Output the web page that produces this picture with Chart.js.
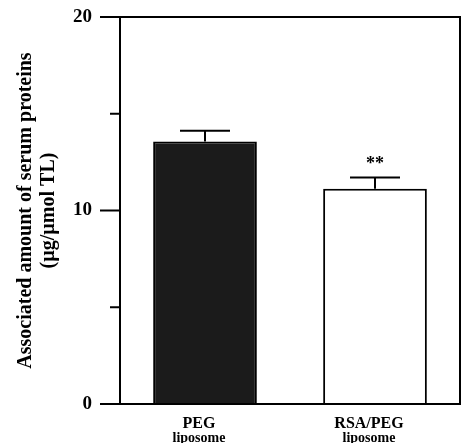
<!DOCTYPE html>
<html>
<head>
<meta charset="utf-8">
<script src="https://cdn.jsdelivr.net/npm/chart.js@4"></script>
<style>
  html, body { margin: 0; padding: 0; background: #fff; }
  #chart { display: block; }
</style>
</head>
<body>
<canvas id="chart" width="462" height="443"></canvas>
<script>
// data
const categories = ['PEG', 'RSA/PEG'];
const subLabels = ['liposome', 'liposome'];
const means = [13.56, 11.13];
const errors = [0.56, 0.57];
const marks = ['', '**'];
const yTicks = [0, 5, 10, 15, 20];
const yLabelled = [0, 10, 20];

const serif = '"Liberation Serif", "DejaVu Serif", serif';

// frame, tick marks, error bars, significance marks and two-size category labels
const extras = {
    id: 'extras',
    afterDatasetsDraw(chart) {
        const ctx = chart.ctx;
        const a = chart.chartArea;
        const x = chart.scales.x;
        const y = chart.scales.y;
        const line = (x1, y1, x2, y2) => {
            ctx.beginPath();
            ctx.moveTo(x1, y1);
            ctx.lineTo(x2, y2);
            ctx.stroke();
        };
        ctx.save();
        ctx.strokeStyle = '#000';
        ctx.lineWidth = 2;
        ctx.strokeRect(a.left, a.top, a.right - a.left, a.bottom - a.top);

        yTicks.forEach((v) => {
            const py = y.getPixelForValue(v);
            const len = yLabelled.includes(v) ? 20 : 10;
            line(a.left - len, py, a.left, py);
        });

        ctx.fillStyle = '#000';
        ctx.textAlign = 'center';
        means.forEach((m, i) => {
            const px = x.getPixelForValue(i);
            const base = y.getPixelForValue(m);
            const top = y.getPixelForValue(m + errors[i]);
            line(px, base, px, top);
            line(px - 25, top, px + 25, top);
            if (marks[i]) {
                ctx.font = 'bold 18px ' + serif;
                ctx.textBaseline = 'middle';
                ctx.fillText(marks[i], px, top - 13);
            }
        });

        ctx.textBaseline = 'alphabetic';
        categories.forEach((c, i) => {
            const px = x.getPixelForValue(i) - 6;
            ctx.font = 'bold 16px ' + serif;
            ctx.fillText(c, px, a.bottom + 24);
            ctx.font = 'bold 14px ' + serif;
            ctx.fillText(subLabels[i], px, a.bottom + 38);
        });
        ctx.restore();
    }
};

new Chart(document.getElementById('chart'), {
    type: 'bar',
    data: {
        labels: categories,
        datasets: [{
            data: means,
            backgroundColor: ['#1b1b1b', '#ffffff'],
            borderColor: '#000',
            borderWidth: 2,
            barPercentage: 0.61,
            categoryPercentage: 1
        }]
    },
    options: {
        responsive: false,
        animation: false,
        layout: { padding: { top: 17, right: 2, left: 0, bottom: 0 } },
        plugins: {
            legend: { display: false },
            tooltip: { enabled: false }
        },
        scales: {
            x: {
                grid: { display: false, drawTicks: false },
                border: { display: false },
                ticks: { display: false },
                afterFit(scale) { scale.height = 39; }
            },
            y: {
                min: 0,
                max: 20,
                grid: { display: false, drawTicks: false },
                border: { display: false },
                afterBuildTicks(scale) {
                    scale.ticks = yTicks.map((v) => ({ value: v }));
                },
                ticks: {
                    color: '#000',
                    padding: 28,
                    font: { family: serif, weight: 'bold', size: 19 },
                    callback: (v) => (yLabelled.includes(v) ? String(v) : '')
                },
                title: {
                    display: true,
                    text: ['Associated amount of serum proteins', '(\u00b5g/\u00b5mol TL)'],
                    color: '#000',
                    padding: { top: 14, bottom: 0 },
                    font: { family: serif, weight: 'bold', size: 20, lineHeight: 1.15 }
                },
                afterFit(scale) {
                    scale.width = 120;
                    scale.paddingTop = 0;
                    scale.paddingBottom = 0;
                }
            }
        }
    },
    plugins: [extras]
});
</script>
</body>
</html>
